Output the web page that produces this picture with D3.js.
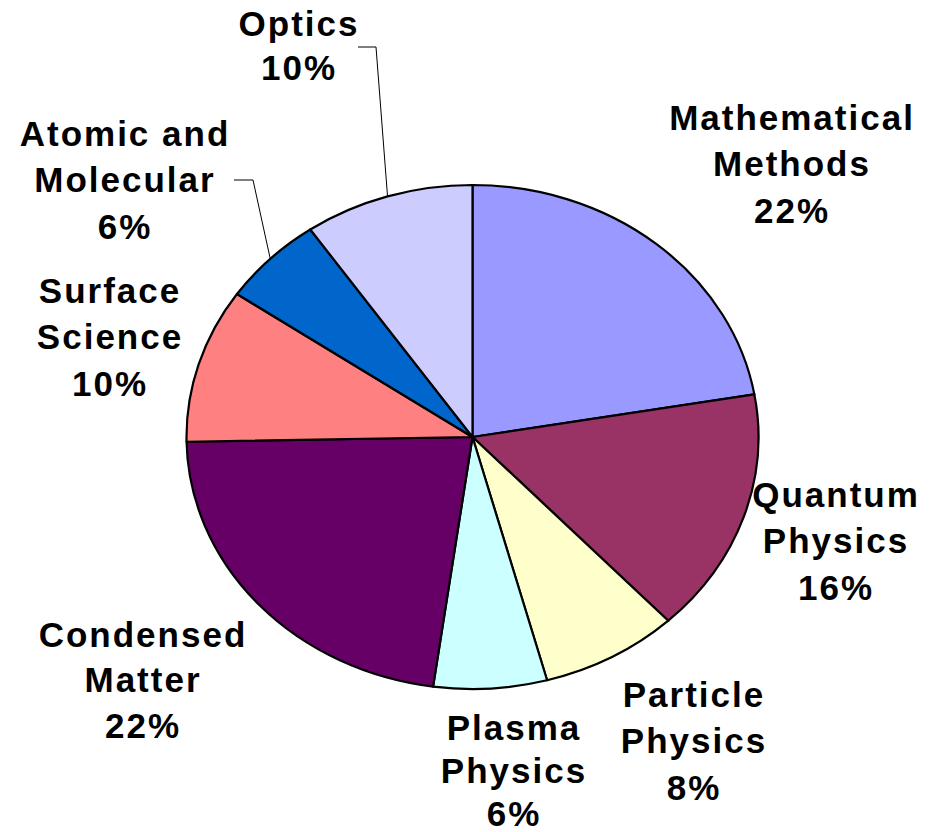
<!DOCTYPE html>
<html>
<head>
<meta charset="utf-8">
<script src="https://cdn.jsdelivr.net/npm/d3@7"></script>
<style>
  html, body { margin: 0; padding: 0; background: #fff; }
  svg { display: block; }
  text { font-family: "Liberation Sans", Arial, sans-serif; font-weight: bold; fill: #000; }
</style>
</head>
<body>
<svg id="chart" width="930" height="832"></svg>
<script>
// ---- data ----
const categories = ["Mathematical Methods", "Quantum Physics", "Particle Physics", "Plasma Physics",
                    "Condensed Matter", "Surface Science", "Atomic and Molecular", "Optics"];
const values = [22.3, 15.7, 7.8, 6.4, 22.5, 9.9, 5.8, 9.6];
const pctLabels = ["22%", "16%", "8%", "6%", "22%", "10%", "6%", "10%"];
const labelLines = [
  ["Mathematical", "Methods"],
  ["Quantum", "Physics"],
  ["Particle", "Physics"],
  ["Plasma", "Physics"],
  ["Condensed", "Matter"],
  ["Surface", "Science"],
  ["Atomic and", "Molecular"],
  ["Optics"]
];
const colors = ["#9999FF", "#993366", "#FFFFCC", "#CCFFFF", "#660066", "#FF8080", "#0066CC", "#CCCCFF"];

// ---- layout ----
const cx = 472.5, cy = 437, rx = 286, ry = 252;
const fontSize = 35, ls = 2;
// label anchor: center x, first line center y, line step
const labelLayout = [
  {x: 791, y: 117, step: 46.5},
  {x: 835, y: 494, step: 46.5},
  {x: 693, y: 694, step: 46.5},
  {x: 513, y: 727, step: 43},
  {x: 142, y: 634, step: 45.5},
  {x: 109, y: 290, step: 46.5},
  {x: 124, y: 133, step: 46.5},
  {x: 298, y: 23, step: 44}
];
// leader line bends (for labels that have them)
const leaders = {
  6: [[253, 180], [234, 180]],
  7: [[376, 47], [358, 47]]
};

const svg = d3.select("#chart");

const pie = d3.pie().sort(null).value(d => d)(values);
const arc = d3.arc().innerRadius(0).outerRadius(ry);

const g = svg.append("g")
  .attr("transform", `translate(${cx},${cy}) scale(${rx / ry},1)`);

g.selectAll("path.slice")
  .data(pie)
  .join("path")
  .attr("class", "slice")
  .attr("d", arc)
  .attr("fill", (d, i) => colors[i])
  .attr("stroke", "#000")
  .attr("stroke-width", 2.2)
  .attr("stroke-linejoin", "round")
  .attr("vector-effect", "non-scaling-stroke");

// edge point helper (parametric ellipse)
function edgePoint(a) {
  return [cx + rx * Math.sin(a), cy - ry * Math.cos(a)];
}

// leader lines
Object.keys(leaders).forEach(k => {
  const i = +k;
  const d = pie[i];
  const mid = (d.startAngle + d.endAngle) / 2;
  const pts = [edgePoint(mid)].concat(leaders[k]);
  svg.append("path")
    .attr("d", d3.line()(pts))
    .attr("fill", "none")
    .attr("stroke", "#000")
    .attr("stroke-width", 1);
});

// labels
labelLines.forEach((lines, i) => {
  const L = labelLayout[i];
  const all = lines.concat([pctLabels[i]]);
  const t = svg.append("text")
    .attr("text-anchor", "middle")
    .attr("font-size", fontSize)
    .attr("letter-spacing", ls);
  all.forEach((s, j) => {
    t.append("tspan")
      .attr("x", L.x + ls / 2)
      .attr("y", L.y + j * L.step)
      .attr("dy", "0.36em")
      .text(s);
  });
});
</script>
</body>
</html>
